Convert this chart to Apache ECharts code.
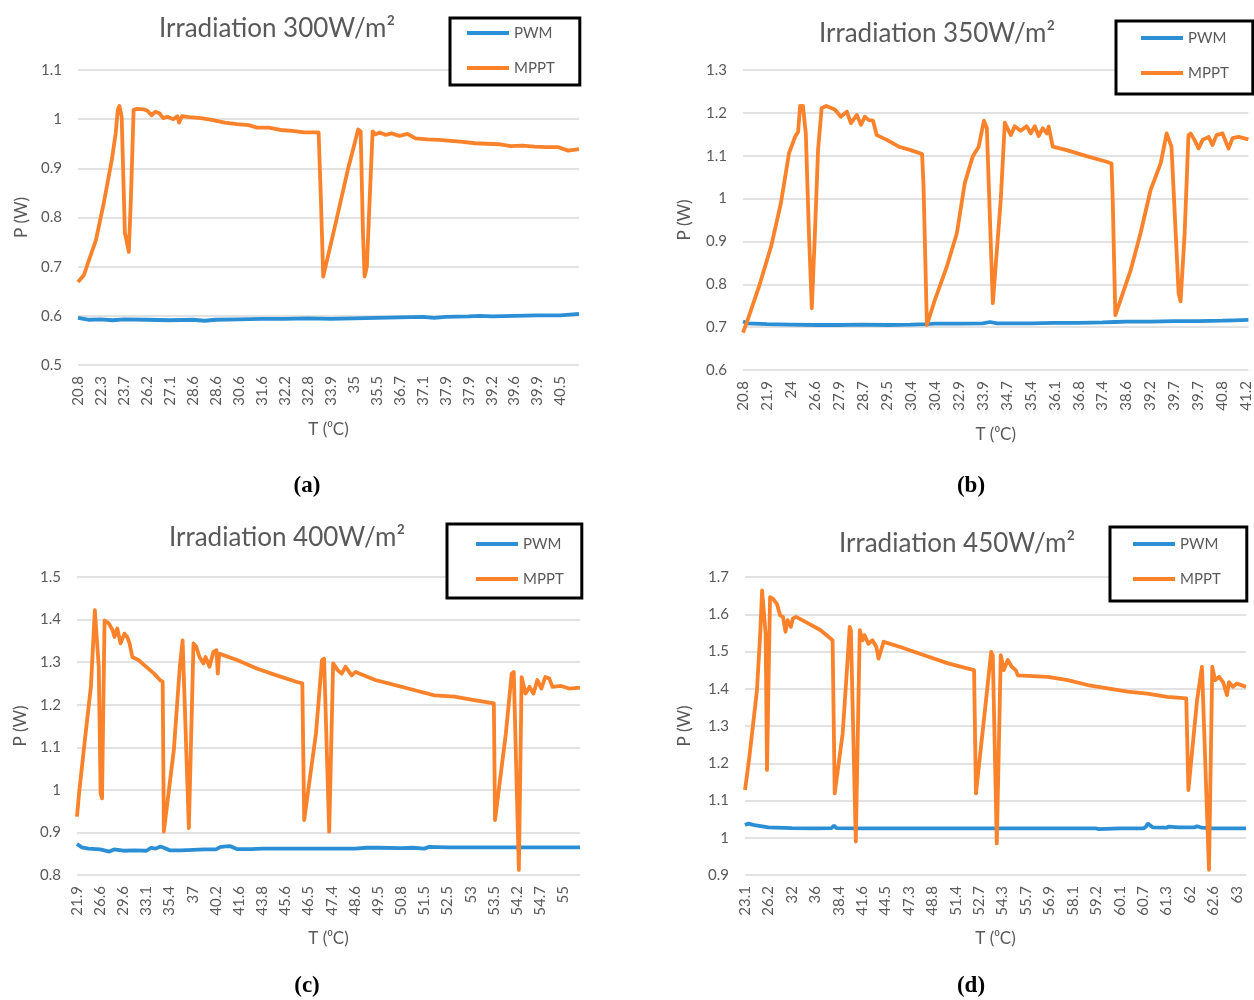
<!DOCTYPE html>
<html><head><meta charset="utf-8">
<script src="https://cdn.jsdelivr.net/npm/echarts@6/dist/echarts.min.js"></script>
<style>html,body{margin:0;padding:0;background:#fff}#c{width:1254px;height:1000px}</style>
</head><body><div id="c"></div>
<script>
// ---------- DATA (x = position in tick-label units, y = power in W) ----------
const aTicks = ['20.8','22.3','23.7','26.2','27.1','28.6','28.6','30.6','31.6','32.2','32.8','33.9','35','35.5','36.7','37.1','37.9','37.9','39.2','39.6','39.9','40.5'];
const bTicks = ['20.8','21.9','24','26.6','27.9','28.7','29.5','30.4','30.4','32.9','33.9','34.7','35.4','36.1','36.8','37.4','38.6','39.2','39.7','39.7','40.8','41.2'];
const cTicks = ['21.9','26.6','29.6','33.1','35.4','37','40.2','41.6','43.8','45.6','46.5','47.4','48.6','49.5','50.8','51.5','52.5','53','53.5','54.2','54.7','55'];
const dTicks = ['23.1','26.2','32','36','38.4','41.6','44.5','47.3','48.8','51.4','52.7','54.3','55.7','56.9','58.1','59.2','60.1','60.7','61.3','62','62.6','63'];

const aPWM = [[0,0.596],[0.5,0.592],[1,0.593],[1.5,0.591],[2,0.593],[3,0.592],[4,0.591],[5,0.592],[5.5,0.590],[6,0.592],[7,0.593],[8,0.594],[9,0.594],[10,0.595],[11,0.594],[12,0.595],[13,0.596],[14,0.597],[15,0.598],[15.5,0.596],[16,0.598],[17,0.599],[17.5,0.600],[18,0.599],[19,0.600],[20,0.601],[21,0.601],[21.8,0.604]];
const aMPPT = [[0,0.669],[0.26,0.683],[0.43,0.707],[0.78,0.754],[1.12,0.829],[1.47,0.917],[1.64,0.971],[1.73,1.019],[1.8,1.027],[1.9,1.005],[2.0,0.836],[2.04,0.768],[2.11,0.754],[2.21,0.730],[2.3,0.836],[2.42,1.019],[2.56,1.021],[2.85,1.020],[3.02,1.017],[3.2,1.008],[3.37,1.015],[3.54,1.012],[3.71,1.002],[3.89,1.005],[4.15,1.0],[4.32,1.006],[4.4,0.993],[4.52,1.006],[4.84,1.004],[5.35,1.002],[5.87,0.998],[6.39,0.993],[6.91,0.990],[7.43,0.988],[7.77,0.983],[8.29,0.983],[8.81,0.978],[9.33,0.976],[9.84,0.973],[10.47,0.973],[10.57,0.836],[10.67,0.680],[11.23,0.792],[11.74,0.897],[12.0,0.944],[12.19,0.979],[12.3,0.975],[12.4,0.768],[12.47,0.680],[12.57,0.700],[12.69,0.836],[12.82,0.975],[12.95,0.969],[13.13,0.973],[13.39,0.968],[13.64,0.971],[13.99,0.966],[14.34,0.970],[14.68,0.961],[15.2,0.959],[15.72,0.958],[16.23,0.956],[16.75,0.954],[17.27,0.951],[17.79,0.950],[18.31,0.949],[18.83,0.945],[19.34,0.946],[19.86,0.944],[20.38,0.943],[20.9,0.943],[21.33,0.936],[21.8,0.939]];

const bPWM = [[0,0.713],[0.2,0.709],[1,0.707],[2,0.706],[3,0.705],[4,0.705],[5,0.706],[6,0.705],[7,0.706],[7.7,0.707],[8,0.708],[9,0.708],[10,0.709],[10.3,0.712],[10.6,0.709],[11,0.709],[12,0.709],[13,0.710],[14,0.710],[15,0.711],[15.5,0.712],[16,0.713],[17,0.713],[18,0.714],[19,0.714],[20,0.715],[20.5,0.716],[21.08,0.717]];
const bMPPT = [[0,0.687],[0.17,0.713],[0.67,0.795],[1.17,0.888],[1.58,0.989],[1.92,1.106],[2.17,1.144],[2.3,1.156],[2.38,1.216],[2.5,1.216],[2.62,1.152],[2.75,0.919],[2.87,0.744],[3.0,0.919],[3.13,1.113],[3.28,1.211],[3.47,1.216],[3.83,1.208],[4.08,1.191],[4.33,1.203],[4.5,1.176],[4.75,1.195],[4.92,1.172],[5.08,1.191],[5.25,1.183],[5.42,1.182],[5.58,1.148],[6.0,1.137],[6.5,1.121],[7.0,1.113],[7.47,1.104],[7.53,1.028],[7.67,0.705],[8.0,0.763],[8.5,0.841],[8.92,0.919],[9.25,1.036],[9.58,1.098],[9.83,1.121],[10.05,1.182],[10.17,1.164],[10.42,0.756],[10.75,0.997],[10.92,1.177],[11.17,1.148],[11.33,1.169],[11.58,1.158],[11.83,1.169],[12.0,1.152],[12.17,1.169],[12.33,1.146],[12.5,1.164],[12.67,1.152],[12.75,1.168],[12.92,1.121],[13.5,1.113],[14.33,1.099],[15.17,1.086],[15.37,1.082],[15.42,0.997],[15.53,0.728],[16.17,0.833],[16.58,0.919],[17.0,1.020],[17.42,1.082],[17.67,1.152],[17.75,1.154],[17.87,1.121],[18.17,0.779],[18.25,0.760],[18.42,0.919],[18.58,1.148],[18.67,1.152],[18.83,1.137],[19.0,1.117],[19.17,1.137],[19.42,1.144],[19.58,1.125],[19.75,1.148],[20.0,1.152],[20.25,1.117],[20.42,1.141],[20.67,1.144],[21.08,1.138]];

const cPWM = [[0,0.873],[0.2,0.865],[0.5,0.862],[1,0.860],[1.4,0.855],[1.6,0.860],[2,0.857],[2.5,0.858],[3,0.857],[3.2,0.864],[3.4,0.862],[3.6,0.867],[3.8,0.863],[4.0,0.858],[4.5,0.858],[5,0.859],[5.5,0.860],[6,0.860],[6.2,0.866],[6.6,0.868],[6.9,0.861],[7.5,0.861],[8,0.862],[9,0.862],[10,0.862],[11,0.862],[12,0.862],[12.5,0.864],[13,0.864],[14,0.863],[14.5,0.864],[15,0.862],[15.2,0.866],[16,0.865],[17,0.865],[18,0.865],[19,0.865],[20,0.865],[21,0.865],[21.72,0.865]];
const cMPPT = [[0,0.937],[0.09,0.992],[0.34,1.117],[0.6,1.242],[0.77,1.422],[0.84,1.423],[0.94,1.289],[1.02,0.992],[1.08,0.980],[1.19,1.398],[1.37,1.391],[1.54,1.375],[1.62,1.359],[1.74,1.379],[1.88,1.344],[2.05,1.367],[2.17,1.359],[2.27,1.344],[2.39,1.312],[2.65,1.305],[2.99,1.289],[3.33,1.273],[3.58,1.258],[3.7,1.254],[3.75,0.902],[4.18,1.093],[4.44,1.289],[4.56,1.351],[4.62,1.348],[4.83,0.910],[5.03,1.344],[5.15,1.336],[5.29,1.312],[5.46,1.297],[5.55,1.312],[5.72,1.289],[5.89,1.324],[6.02,1.328],[6.08,1.273],[6.14,1.320],[6.91,1.305],[7.76,1.285],[8.62,1.269],[9.47,1.254],[9.73,1.250],[9.81,0.929],[10.32,1.133],[10.58,1.305],[10.67,1.308],[10.89,0.902],[11.06,1.297],[11.26,1.281],[11.43,1.273],[11.6,1.289],[11.86,1.269],[12.03,1.277],[12.88,1.258],[13.74,1.246],[14.59,1.234],[15.44,1.222],[16.3,1.219],[17.15,1.211],[18.0,1.203],[18.05,0.929],[18.52,1.133],[18.77,1.273],[18.86,1.277],[19.08,0.812],[19.2,1.265],[19.37,1.226],[19.54,1.242],[19.71,1.226],[19.88,1.258],[20.05,1.238],[20.22,1.265],[20.39,1.262],[20.53,1.242],[20.9,1.244],[21.25,1.238],[21.72,1.240]];

const dPWM = [[0,1.034],[0.15,1.038],[0.4,1.034],[1,1.028],[2,1.026],[3,1.025],[3.7,1.026],[3.8,1.033],[3.9,1.026],[5,1.025],[8,1.025],[12,1.025],[15,1.025],[15.1,1.023],[16,1.025],[17,1.025],[17.1,1.028],[17.2,1.038],[17.4,1.028],[18,1.027],[18.1,1.030],[18.5,1.028],[19.2,1.028],[19.3,1.031],[19.5,1.027],[20,1.025],[21.39,1.025]];
const dMPPT = [[0,1.128],[0.17,1.208],[0.43,1.351],[0.51,1.396],[0.65,1.548],[0.73,1.664],[0.78,1.669],[0.88,1.548],[0.94,1.182],[0.99,1.369],[1.07,1.646],[1.19,1.642],[1.36,1.628],[1.5,1.597],[1.62,1.593],[1.73,1.553],[1.82,1.584],[1.96,1.566],[2.04,1.588],[2.18,1.593],[2.72,1.575],[3.23,1.557],[3.74,1.530],[3.83,1.119],[4.17,1.280],[4.37,1.468],[4.47,1.566],[4.52,1.557],[4.73,0.990],[4.9,1.557],[5.02,1.530],[5.1,1.544],[5.27,1.521],[5.44,1.530],[5.61,1.512],[5.7,1.481],[5.78,1.477],[5.92,1.526],[6.63,1.512],[7.65,1.490],[8.67,1.468],[9.78,1.450],[9.86,1.119],[10.29,1.369],[10.51,1.499],[10.58,1.490],[10.75,0.985],[10.92,1.490],[11.05,1.450],[11.22,1.477],[11.39,1.459],[11.56,1.450],[11.65,1.436],[12.93,1.432],[13.78,1.423],[14.63,1.410],[15.48,1.401],[16.33,1.392],[17.18,1.387],[18.03,1.378],[18.84,1.374],[18.93,1.128],[19.3,1.369],[19.51,1.459],[19.56,1.454],[19.81,0.914],[19.95,1.459],[20.07,1.423],[20.24,1.432],[20.41,1.418],[20.58,1.383],[20.66,1.418],[20.83,1.405],[21.0,1.414],[21.39,1.405]];

const titles = ['Irradiation 300W/m²','Irradiation 350W/m²','Irradiation 400W/m²','Irradiation 450W/m²'];
const subLabels = ['a','b','c','d'];
const yRanges = [[0.5,1.1],[0.6,1.3],[0.8,1.5],[0.9,1.7]];
const xEnds = [21.8,21.08,21.72,21.39];

// ---------- LAYOUT ----------
const layout = [
  {grid:{left:78,top:70,width:501,height:295}, title:[272,11], sub:[302,470], legend:{left:450,top:18,padding:[7,25,9,17]}, yGap:48, xGap:56},
  {grid:{left:743,top:70,width:508,height:300}, title:[932,16], sub:[966,470], legend:{left:1116,top:21,padding:[9,24,13,25]}, yGap:50, xGap:56},
  {grid:{left:77,top:577,width:503,height:298}, title:[282,520], sub:[302,970], legend:{left:447,top:524,padding:[12,18,11,29]}, yGap:48, xGap:55},
  {grid:{left:745,top:577,width:501,height:298}, title:[952,526], sub:[966,970], legend:{left:1110,top:527,padding:[9,26,14,23]}, yGap:52, xGap:55}
];
const tickSets = [aTicks,bTicks,cTicks,dTicks];
const pwmSets = [aPWM,bPWM,cPWM,dPWM];
const mpptSets = [aMPPT,bMPPT,cMPPT,dMPPT];

const BLUE = '#2a8fd4', ORANGE = '#f9822a', GREY = '#595959', FONT = 'Lato';

const option = {
  backgroundColor:'#fff', animation:false,
  textStyle:{fontFamily:FONT},
  grid:[], xAxis:[], yAxis:[], series:[], title:[], legend:[]
};

for (let i = 0; i < 4; i++) {
  const L = layout[i], ticks = tickSets[i];
  option.grid.push(Object.assign({containLabel:false}, L.grid));
  option.xAxis.push({
    gridIndex:i, type:'value', min:0, max:xEnds[i], interval:1,
    name:'T (⁰C)', nameLocation:'middle', nameGap:L.xGap,
    nameTextStyle:{fontSize:17, color:GREY, fontFamily:FONT},
    axisLine:{show:false}, axisTick:{show:false}, splitLine:{show:false},
    axisLabel:{rotate:90, fontSize:15, color:GREY, fontFamily:FONT, margin:11,
      showMinLabel:true, showMaxLabel:true, hideOverlap:false,
      formatter:function(v){ const k=Math.round(v); return Math.abs(v-k)<1e-6 && ticks[k]!==undefined ? ticks[k] : ''; }}
  });
  option.yAxis.push({
    gridIndex:i, type:'value', min:yRanges[i][0], max:yRanges[i][1], interval:0.1,
    name:'P (W)', nameLocation:'middle', nameGap:L.yGap, nameRotate:90,
    nameTextStyle:{fontSize:17, color:GREY, fontFamily:FONT},
    axisLine:{show:false}, axisTick:{show:false},
    splitLine:{show:true, lineStyle:{color:'#d9d9d9', width:1.5}},
    axisLabel:{fontSize:15, color:GREY, fontFamily:FONT, margin:16,
      formatter:function(v){ return String(Math.round(v*10)/10); }}
  });
  option.series.push({
    name:'PWM', type:'line', xAxisIndex:i, yAxisIndex:i, data:pwmSets[i],
    symbol:'none', smooth:false, lineStyle:{color:BLUE, width:3.8}, itemStyle:{color:BLUE}, z:2
  });
  option.series.push({
    name:'MPPT', type:'line', xAxisIndex:i, yAxisIndex:i, data:mpptSets[i],
    symbol:'none', smooth:false, lineStyle:{color:ORANGE, width:3.8, join:'round'}, itemStyle:{color:ORANGE}, z:3
  });
  option.title.push({
    text:titles[i], left:L.title[0], top:L.title[1], textAlign:'center',
    textStyle:{fontSize:26, fontWeight:'normal', color:GREY, fontFamily:FONT}
  });
  option.title.push({
    text:'{p|(}{b|'+subLabels[i]+'}{p|)}', left:L.sub[0], top:L.sub[1], textAlign:'center',
    textStyle:{rich:{
      p:{fontSize:23, fontFamily:'Liberation Serif', color:'#000'},
      b:{fontSize:23, fontFamily:'Liberation Serif', fontWeight:'bold', color:'#000'}
    }}
  });
  option.legend.push({
    data:[{name:'PWM', icon:'rect', itemStyle:{color:BLUE}}, {name:'MPPT', icon:'rect', itemStyle:{color:ORANGE}}],
    orient:'vertical', left:L.legend.left, top:L.legend.top,
    padding:L.legend.padding, backgroundColor:'#fff', borderColor:'#000', borderWidth:3, borderRadius:0,
    itemWidth:42, itemHeight:4, itemGap:19, selectedMode:false, z:10,
    textStyle:{fontSize:15, color:GREY, fontFamily:FONT, lineHeight:16, height:16}
  });
}

const chart = echarts.init(document.getElementById('c'), null, {renderer:'canvas'});
chart.setOption(option);
</script></body></html>
